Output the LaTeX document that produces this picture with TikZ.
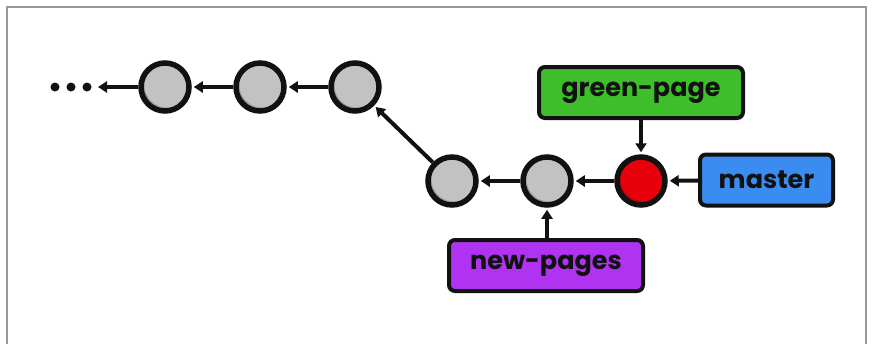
\documentclass[tikz,border=0pt]{standalone}
\usepackage{fontspec}
\setmainfont{Poppins}
\usetikzlibrary{arrows.meta}
\definecolor{cgray}{HTML}{C2C2C2}
\definecolor{cshade}{HTML}{9A9A9A}
\definecolor{cred}{HTML}{E8000C}
\definecolor{cdred}{HTML}{B00008}
\definecolor{cgreen}{HTML}{3EBE2A}
\definecolor{cblue}{HTML}{3A8CF0}
\definecolor{cpurple}{HTML}{B033F2}
\definecolor{cink}{HTML}{111111}
\definecolor{cframe}{HTML}{9A9A9A}
\tikzset{
  commit/.style={circle, draw=cink, line width=5.5pt, minimum size=48pt, inner sep=0pt, fill=#1},
  gcommit/.style={commit=cgray, path picture={
      \fill[cshade] (path picture bounding box.center) circle (24pt);
      \fill[cgray] ([shift={(2pt,2pt)}]path picture bounding box.center) circle (22.5pt);}},
  rcommit/.style={commit=cred, path picture={
      \fill[cdred] (path picture bounding box.center) circle (24pt);
      \fill[cred] ([shift={(2pt,2pt)}]path picture bounding box.center) circle (22.5pt);}},
  branch/.style={draw=cink, line width=4pt, rounded corners=6pt, fill=#1, inner sep=0pt,
      font=\fontsize{25.5}{28}\selectfont\bfseries, text=cink, minimum height=51pt},
  link/.style={line width=4pt, draw=cink, -{Triangle[length=9pt,width=11pt]}, shorten >=2pt},
  dot/.style={circle, fill=cink, minimum size=9pt, inner sep=0pt}
}
\begin{document}
\begin{tikzpicture}[x=1pt,y=-1pt]
\useasboundingbox (0,0) rectangle (878,343);
\draw[cframe, line width=2pt] (7,344) -- (7,7) -- (866,7) -- (866,344);
% commits
\node[gcommit] (c1) at (165,87) {};
\node[gcommit] (c2) at (260,87) {};
\node[gcommit] (c3) at (355,87) {};
\node[gcommit] (ca) at (452,181) {};
\node[gcommit] (cb) at (547,181) {};
\node[rcommit] (cr) at (641,181) {};
% dots
\node[dot] (d1) at (55,87) {};
\node[dot] (d2) at (71,87) {};
\node[dot] (d3) at (87,87) {};
\coordinate (dend) at (98,87);
% branches
\node[branch=cgreen, minimum width=204pt] (green) at (641,92.5) {green-page};
\node[branch=cblue, minimum width=133pt] (master) at (766.5,180) {master};
\node[branch=cpurple, minimum width=194pt] (newp) at (546,265.5) {new-pages};
% links
\draw[link, shorten >=0pt] (c1) -- (dend);
\draw[link] (c2) -- (c1);
\draw[link] (c3) -- (c2);
\draw[link] (ca) -- (c3);
\draw[link] (cb) -- (ca);
\draw[link] (cr) -- (cb);
\draw[link] (master) -- (cr);
\draw[link] (green.south -| cr) -- (cr);
\draw[link] (newp.north -| cb) -- (cb);
\end{tikzpicture}
\end{document}
